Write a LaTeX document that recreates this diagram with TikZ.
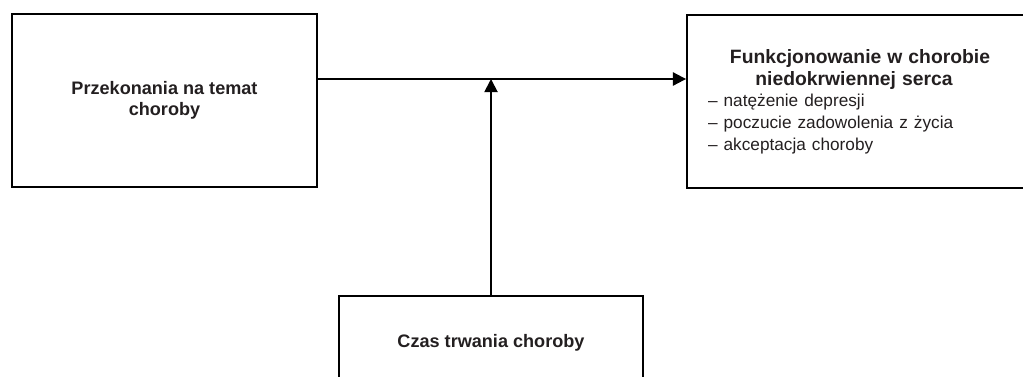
\documentclass[tikz,border=0pt]{standalone}
\usepackage{fontspec}
\setmainfont{Liberation Sans}
\usetikzlibrary{arrows.meta}
\definecolor{txt}{RGB}{35,31,32}
\tikzset{
  box/.style={draw=black, line width=1.1pt, text=txt, inner sep=0pt,
    font=\fontsize{10.3}{12.2}\selectfont},
  arr/.style={line width=1.1pt, -{Triangle[length=7.5pt,width=7.5pt]}}
}
\begin{document}
\begin{tikzpicture}[x=0.02cm,y=-0.02cm]
\clip (0,0) rectangle (1023,376);
\useasboundingbox (0,0) rectangle (1023,376);
\node[box, minimum width=6.1cm, minimum height=3.46cm, align=center] (left) at (164.5,100.5)
  {\bfseries Przekonania na temat\\\bfseries choroby};
\node[box, minimum width=6.92cm, minimum height=3.46cm, inner xsep=0.42cm, text width=6.08cm] (right) at (860,101.5)
  {\centering\fontsize{11}{12.6}\selectfont\bfseries Funkcjonowanie w chorobie\hspace*{0.24cm}\\ niedokrwiennej serca\hspace*{0.24cm}\par
   \raggedright\fontsize{9.8}{12.3}\selectfont\mdseries – natężenie depresji\\ – poczucie zadowolenia z życia\\ – akceptacja choroby\par};
\node[box, minimum width=6.08cm, minimum height=1.88cm, align=center] (bot) at (491,343)
  {\bfseries Czas trwania choroby};
\coordinate (h) at (0,79);
\draw[arr] (left.east |- h) -- (right.west |- h);
\draw[arr] (bot.north) -- (bot.north |- h);
\end{tikzpicture}
\end{document}
